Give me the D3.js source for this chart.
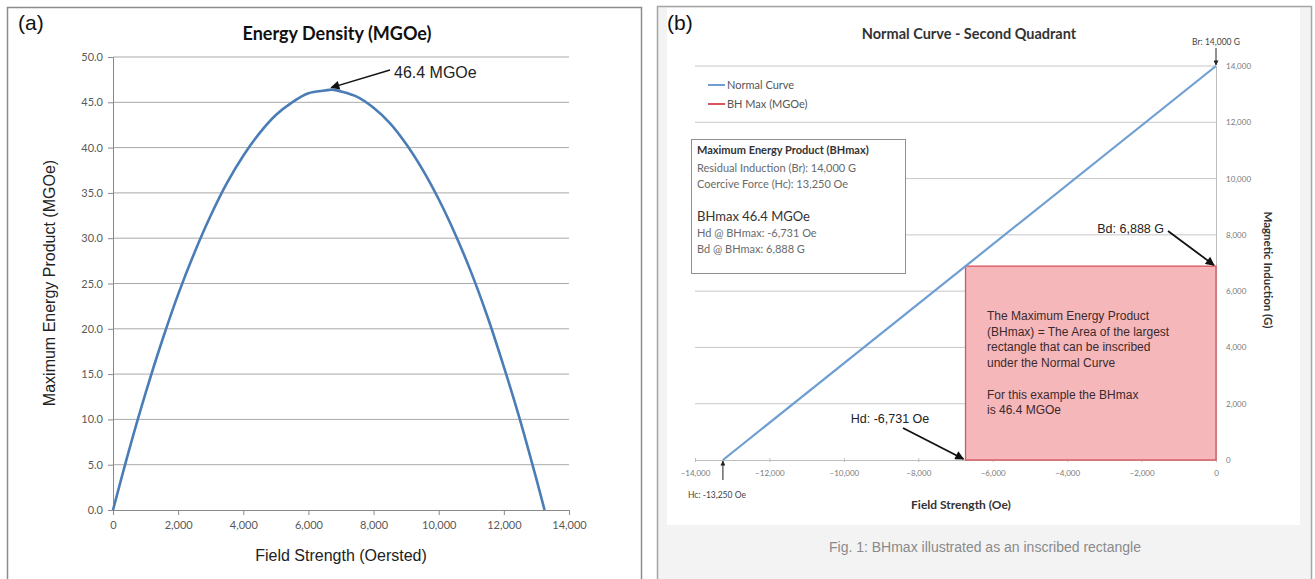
<!DOCTYPE html>
<html>
<head>
<meta charset="utf-8">
<script src="https://cdnjs.cloudflare.com/ajax/libs/d3/7.8.5/d3.min.js"></script>
<style>
  html, body { margin: 0; padding: 0; background: #ffffff; }
  svg { display: block; }
</style>
</head>
<body>
<svg id="fig" width="1315" height="579"></svg>
<script>
// ---------- panel (a): energy product vs field strength ----------
const fieldOe = [0, 500, 1000, 1500, 2000, 2500, 3000, 3500, 4000, 4500, 5000, 5500, 6000, 6500, 6731,
                 7000, 7500, 8000, 8500, 9000, 9500, 10000, 10500, 11000, 11500, 12000, 12500, 13000, 13250];
const energyMGOe = [0, 6.7, 12.9, 18.6, 23.8, 28.4, 32.5, 36.1, 39.1, 41.6, 43.6, 45.0, 46.0, 46.3, 46.4,
                    46.2, 45.6, 44.4, 42.7, 40.4, 37.6, 34.3, 30.5, 26.2, 21.3, 15.8, 9.9, 3.4, 0];
const xTicksA = [0, 2000, 4000, 6000, 8000, 10000, 12000, 14000];
const yTicksA = [0, 5, 10, 15, 20, 25, 30, 35, 40, 45, 50];
const peakLabel = "46.4 MGOe";
const peakField = 6731, peakEnergy = 46.4;

// ---------- panel (b): second quadrant normal curve ----------
const normalH = [-13250, 0];
const normalB = [0, 14000];
const hdBHmax = -6731, bdBHmax = 6888;
const xTicksB = [-14000, -12000, -10000, -8000, -6000, -4000, -2000, 0];
const yTicksB = [0, 2000, 4000, 6000, 8000, 10000, 12000, 14000];
const legendNames = ["Normal Curve", "BH Max (MGOe)"];
const infoLines = [
  "Maximum Energy Product (BHmax)",
  "Residual Induction (Br): 14,000 G",
  "Coercive Force (Hc): 13,250 Oe",
  "BHmax 46.4 MGOe",
  "Hd @ BHmax: -6,731 Oe",
  "Bd @ BHmax: 6,888 G"
];
const rectLines = [
  "The Maximum Energy Product",
  "(BHmax) = The Area of the largest",
  "rectangle that can be inscribed",
  "under the Normal Curve",
  "",
  "For this example the BHmax",
  "is 46.4 MGOe"
];

const svg = d3.select("#fig");
const comma = d3.format(",");
const SANS = "'Liberation Sans', Arial, sans-serif";
const CAL = "Lato, 'Open Sans', sans-serif";

// arrowhead markers
const defs = svg.append("defs");
defs.append("marker")
  .attr("id", "head").attr("viewBox", "0 0 10 10")
  .attr("refX", 9).attr("refY", 5)
  .attr("markerWidth", 13).attr("markerHeight", 9)
  .attr("markerUnits", "userSpaceOnUse")
  .attr("orient", "auto")
  .append("path").attr("d", "M0,0 L10,5 L0,10 Z").attr("fill", "#111");
defs.append("marker")
  .attr("id", "headSmall").attr("viewBox", "0 0 10 10")
  .attr("refX", 9).attr("refY", 5)
  .attr("markerWidth", 6).attr("markerHeight", 5)
  .attr("markerUnits", "userSpaceOnUse")
  .attr("orient", "auto")
  .append("path").attr("d", "M0,0 L10,5 L0,10 Z").attr("fill", "#222");

// =================== panel (a) ===================
const gA = svg.append("g");
gA.append("rect").attr("x", 7.5).attr("y", 7.5).attr("width", 634).attr("height", 585)
  .attr("fill", "#ffffff").attr("stroke", "#8c8c8c").attr("stroke-width", 1.5);

gA.append("text").attr("x", 18).attr("y", 30).text("(a)")
  .attr("font-family", SANS).attr("font-size", 21).attr("fill", "#111");

const xA = d3.scaleLinear().domain([0, 14000]).range([113, 569]);
const yA = d3.scaleLinear().domain([0, 50]).range([510, 57]);

// horizontal gridlines
gA.append("g").selectAll("line").data(yTicksA.filter(d => d > 0)).join("line")
  .attr("x1", xA(0)).attr("x2", xA(14000))
  .attr("y1", d => yA(d)).attr("y2", d => yA(d))
  .attr("stroke", "#a9a9a9").attr("stroke-width", 1);

// y axis
const yAxisA = gA.append("g").attr("transform", `translate(${xA(0)},0)`)
  .call(d3.axisLeft(yA).tickValues(yTicksA).tickFormat(d3.format(".1f")).tickSize(5).tickPadding(5));
yAxisA.select(".domain").attr("stroke", "#8a8a8a");
yAxisA.selectAll(".tick line").attr("stroke", "#8a8a8a");
yAxisA.selectAll("text").attr("font-family", CAL).attr("font-size", 11).attr("fill", "#595959");

// x axis
const xAxisA = gA.append("g").attr("transform", `translate(0,${yA(0)})`)
  .call(d3.axisBottom(xA).tickValues(xTicksA).tickFormat(comma).tickSize(5).tickPadding(6));
xAxisA.select(".domain").attr("stroke", "#8a8a8a");
xAxisA.selectAll(".tick line").attr("stroke", "#8a8a8a");
xAxisA.selectAll("text").attr("font-family", CAL).attr("font-size", 11).attr("fill", "#595959");

// energy curve
const energyLine = d3.line().x((d, i) => xA(fieldOe[i])).y(d => yA(d)).curve(d3.curveCatmullRom.alpha(0.5));
gA.append("path").datum(energyMGOe).attr("d", energyLine)
  .attr("fill", "none").attr("stroke", "#4a7db6").attr("stroke-width", 2.6);

// title and axis titles
gA.append("text").attr("x", 337).attr("y", 40).attr("text-anchor", "middle")
  .attr("font-family", CAL).attr("font-weight", "bold").attr("font-size", 18).attr("fill", "#111")
  .text("Energy Density (MGOe)");
gA.append("text").attr("transform", "translate(55,283) rotate(-90)").attr("text-anchor", "middle")
  .attr("font-family", SANS).attr("font-size", 16).attr("fill", "#222")
  .text("Maximum Energy Product (MGOe)");
gA.append("text").attr("x", 341).attr("y", 561).attr("text-anchor", "middle")
  .attr("font-family", SANS).attr("font-size", 16).attr("fill", "#222")
  .text("Field Strength (Oersted)");

// peak annotation
gA.append("line")
  .attr("x1", 390).attr("y1", 70)
  .attr("x2", xA(peakField) - 1).attr("y2", yA(peakEnergy) - 2)
  .attr("stroke", "#111").attr("stroke-width", 1.5).attr("marker-end", "url(#head)");
gA.append("text").attr("x", 394).attr("y", 78)
  .attr("font-family", SANS).attr("font-size", 16).attr("fill", "#222").text(peakLabel);

// =================== panel (b) ===================
const gB = svg.append("g");
gB.append("rect").attr("x", 657.5).attr("y", 6.5).attr("width", 654).attr("height", 590)
  .attr("fill", "#f3f3f3").attr("stroke", "#a5a5a5").attr("stroke-width", 1.5);
gB.append("rect").attr("x", 667).attr("y", 8).attr("width", 633).attr("height", 517)
  .attr("fill", "#ffffff");

gB.append("text").attr("x", 667).attr("y", 30).text("(b)")
  .attr("font-family", SANS).attr("font-size", 21).attr("fill", "#111");

const xB = d3.scaleLinear().domain([-14000, 0]).range([695, 1216]);
const yB = d3.scaleLinear().domain([0, 14000]).range([460, 66]);

gB.append("text").attr("x", 969).attr("y", 39).attr("text-anchor", "middle")
  .attr("font-family", CAL).attr("font-weight", "bold").attr("font-size", 14.5).attr("fill", "#333")
  .text("Normal Curve - Second Quadrant");

// gridlines
gB.append("g").selectAll("line").data(yTicksB.filter(d => d > 0)).join("line")
  .attr("x1", xB(-14000)).attr("x2", xB(0))
  .attr("y1", d => yB(d)).attr("y2", d => yB(d))
  .attr("stroke", "#c8c8c8").attr("stroke-width", 1);

// x axis
const xAxisB = gB.append("g").attr("transform", `translate(0,${yB(0)})`)
  .call(d3.axisBottom(xB).tickValues(xTicksB).tickFormat(comma).tickSize(2).tickPadding(8));
xAxisB.select(".domain").attr("stroke", "#bdbdbd");
xAxisB.selectAll(".tick line").attr("stroke", "#bdbdbd").attr("y1", -2);
xAxisB.selectAll("text").attr("font-family", CAL).attr("font-size", 8).attr("fill", "#7a7a7a");

// y axis on the right
const yAxisB = gB.append("g").attr("transform", `translate(${xB(0)},0)`)
  .call(d3.axisRight(yB).tickValues(yTicksB).tickFormat(comma).tickSize(0).tickPadding(10));
yAxisB.select(".domain").attr("stroke", "#bdbdbd");
yAxisB.selectAll("text").attr("font-family", CAL).attr("font-size", 8).attr("fill", "#7a7a7a");

// BHmax rectangle
gB.append("rect")
  .attr("x", xB(hdBHmax)).attr("y", yB(bdBHmax))
  .attr("width", xB(0) - xB(hdBHmax)).attr("height", yB(0) - yB(bdBHmax))
  .attr("fill", "#f6b7bb").attr("stroke", "#d9545c").attr("stroke-width", 1.3);

// normal curve
const normalLine = d3.line().x((d, i) => xB(normalH[i])).y(d => yB(d));
gB.append("path").datum(normalB).attr("d", normalLine)
  .attr("fill", "none").attr("stroke", "#6f9fd2").attr("stroke-width", 2.2);

// rectangle text
gB.append("text").attr("font-family", SANS).attr("font-size", 12).attr("fill", "#3a2a2c")
  .selectAll("tspan").data(rectLines).join("tspan")
  .attr("x", 987).attr("y", (d, i) => 320 + i * 15.7).text(d => d);

// legend
const legend = gB.append("g");
legend.selectAll("line").data(legendNames).join("line")
  .attr("x1", 708).attr("x2", 725)
  .attr("y1", (d, i) => 85 + i * 19).attr("y2", (d, i) => 85 + i * 19)
  .attr("stroke", (d, i) => i === 0 ? "#6f9fd2" : "#d9545c").attr("stroke-width", 2);
legend.selectAll("text").data(legendNames).join("text")
  .attr("x", 727).attr("y", (d, i) => 89 + i * 19)
  .attr("font-family", CAL).attr("font-size", 11).attr("fill", "#555").text(d => d);

// info box
gB.append("rect").attr("x", 691.5).attr("y", 139.5).attr("width", 214).attr("height", 134)
  .attr("fill", "#ffffff").attr("stroke", "#8f8f8f").attr("stroke-width", 1);
const infoY = [154, 172, 188, 221, 237, 253];
gB.append("g").selectAll("text").data(infoLines).join("text")
  .attr("x", 697).attr("y", (d, i) => infoY[i])
  .attr("font-family", CAL)
  .attr("font-size", (d, i) => i === 3 ? 13 : 11)
  .attr("font-weight", (d, i) => i === 0 ? "bold" : "normal")
  .attr("fill", (d, i) => (i === 0 || i === 3) ? "#333" : "#6a6a6a")
  .text(d => d);

// axis titles
gB.append("text").attr("x", 961).attr("y", 509).attr("text-anchor", "middle")
  .attr("font-family", CAL).attr("font-weight", "bold").attr("font-size", 12).attr("fill", "#333")
  .text("Field Strength (Oe)");
gB.append("text").attr("transform", "translate(1264,270) rotate(90)").attr("text-anchor", "middle")
  .attr("font-family", CAL).attr("font-weight", "bold").attr("font-size", 11.5).attr("fill", "#333")
  .text("Magnetic Induction (G)");

// point annotations
gB.append("text").attr("x", xB(0)).attr("y", 45).attr("text-anchor", "middle")
  .attr("font-family", CAL).attr("font-size", 8.5).attr("fill", "#444").text("Br: 14,000 G");
gB.append("line").attr("x1", xB(0)).attr("y1", 48).attr("x2", xB(0)).attr("y2", yB(14000) - 1)
  .attr("stroke", "#222").attr("stroke-width", 1).attr("marker-end", "url(#headSmall)");

gB.append("text").attr("x", 1164).attr("y", 233).attr("text-anchor", "end")
  .attr("font-family", SANS).attr("font-size", 12.5).attr("fill", "#222").text("Bd: 6,888 G");
gB.append("line").attr("x1", 1168).attr("y1", 231).attr("x2", xB(0) - 2).attr("y2", yB(bdBHmax) - 1)
  .attr("stroke", "#111").attr("stroke-width", 1.8).attr("marker-end", "url(#head)");

gB.append("text").attr("x", 890).attr("y", 423).attr("text-anchor", "middle")
  .attr("font-family", SANS).attr("font-size", 12.5).attr("fill", "#222").text("Hd: -6,731 Oe");
gB.append("line").attr("x1", 903).attr("y1", 428).attr("x2", xB(hdBHmax) - 2).attr("y2", yB(0) - 1)
  .attr("stroke", "#111").attr("stroke-width", 1.8).attr("marker-end", "url(#head)");

gB.append("text").attr("x", 688).attr("y", 498)
  .attr("font-family", CAL).attr("font-size", 8.5).attr("fill", "#444").text("Hc: -13,250 Oe");
gB.append("line").attr("x1", xB(-13250)).attr("y1", 480).attr("x2", xB(-13250)).attr("y2", yB(0) + 1)
  .attr("stroke", "#222").attr("stroke-width", 1).attr("marker-end", "url(#headSmall)");

// caption
gB.append("text").attr("x", 985).attr("y", 552).attr("text-anchor", "middle")
  .attr("font-family", SANS).attr("font-size", 14).attr("fill", "#8a8a8a")
  .text("Fig. 1: BHmax illustrated as an inscribed rectangle");
</script>
</body>
</html>
